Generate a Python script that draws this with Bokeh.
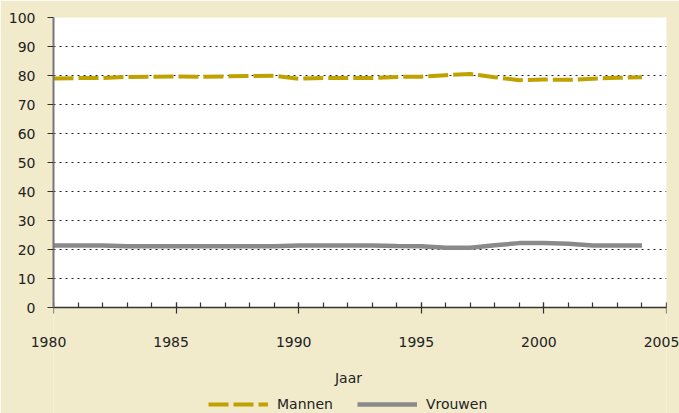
from bokeh.plotting import figure
from bokeh.models import (Range1d, FixedTicker, ColumnDataSource, Label, Legend,
                          LegendItem, BoxAnnotation)
from bokeh.core.properties import value
from bokeh.embed import file_html
from bokeh.resources import INLINE

years = list(range(1980, 2005))
mannen = [79.0, 79.1, 79.1, 79.5, 79.6, 79.7, 79.6, 79.7, 79.8, 79.9,
          78.9, 79.1, 79.1, 79.1, 79.5, 79.6, 80.1, 80.5, 79.4, 78.4,
          78.6, 78.5, 78.9, 79.2, 79.4]
vrouwen = [21.4, 21.4, 21.4, 21.1, 21.1, 21.1, 21.1, 21.1, 21.1, 21.1,
           21.4, 21.4, 21.4, 21.4, 21.2, 21.1, 20.6, 20.6, 21.5, 22.2,
           22.2, 22.0, 21.4, 21.4, 21.4]
x_ticks = [1980, 1985, 1990, 1995, 2000, 2005]
x_tick_labels = ["1980", "1985", "1990", "1995", "2000", "2005"]
y_ticks = [0, 10, 20, 30, 40, 50, 60, 70, 80, 90, 100]
x_title = "Jaar"
series_names = ["Mannen", "Vrouwen"]

FONT = "DejaVu Sans"
BG = "#F1EBCC"
INK = "#222222"

# The frame runs to the bottom of the canvas so the title and legend below the
# plot area are drawn inside it; the white plot area spans 0..100.
H, TOP, AXIS_Y = 413, 17, 307
ppu = (AXIS_Y - TOP) / 100.0
y_start = -(H - AXIS_Y) / ppu

p = figure(width=679, height=H, output_backend="svg", toolbar_location=None,
           x_range=Range1d(1980, 2005), y_range=Range1d(y_start, 100),
           x_axis_location="above",
           min_border_left=53, min_border_right=13, min_border_top=TOP,
           min_border_bottom=0)
p.background_fill_color = BG
p.border_fill_color = BG
p.outline_line_color = None

p.add_layout(BoxAnnotation(left=1980, right=2005, bottom=0, top=100,
                           fill_color="white", fill_alpha=1, line_color=None,
                           level="image"))

# x axis sits at y = 0
xa = p.xaxis[0]
xa.fixed_location = 0
xa.ticker = FixedTicker(ticks=x_ticks, minor_ticks=years + [2005])
xa.major_label_text_font_size = "0px"
xa.major_label_text_color = None
xa.major_label_standoff = 0
xa.axis_line_color = "#333333"
xa.axis_line_width = 1.5
xa.major_tick_line_color = "#333333"
xa.major_tick_line_width = 1.2
xa.major_tick_out = 5
xa.major_tick_in = 6
xa.minor_tick_line_color = "#333333"
xa.minor_tick_line_width = 1.2
xa.minor_tick_out = 5
xa.minor_tick_in = 0

ya = p.yaxis[0]
ya.bounds = (0, 100)
ya.ticker = FixedTicker(ticks=y_ticks)
ya.axis_line_color = "#777777"
ya.axis_line_width = 2
ya.major_tick_line_color = "#333333"
ya.major_tick_line_width = 1.2
ya.major_tick_in = 0
ya.major_tick_out = 6
ya.minor_tick_line_color = None
ya.major_label_standoff = 12
ya.major_label_text_font = FONT
ya.major_label_text_font_size = "14px"
ya.major_label_text_color = INK

p.xgrid.grid_line_color = None
p.ygrid.ticker = FixedTicker(ticks=y_ticks)
p.ygrid.grid_line_color = INK
p.ygrid.grid_line_dash = "2 4"
p.ygrid.grid_line_width = 1

# data lines
src = ColumnDataSource(dict(x=years, m=mannen, v=vrouwen))
r_v = p.line("x", "v", source=src, line_color="#8A8A8A", line_width=4.5)
r_m = p.line("x", "m", source=src, line_color="#BFA100", line_width=4,
             line_dash="20 5")

# x tick labels
lab_src = ColumnDataSource(dict(x=x_ticks, y=[0] * len(x_ticks), t=x_tick_labels))
p.text("x", "y", text="t", source=lab_src, text_font=value(FONT),
       text_font_size="14px", text_color=INK, text_align="center",
       text_baseline="middle", x_offset=-5, y_offset=34, level="overlay")

# axis title
p.add_layout(Label(x=295, y=H - 377.5, x_units="screen", y_units="screen",
                   text=x_title, text_font=FONT, text_font_size="14px",
                   text_color=INK, text_align="center", text_baseline="middle"))

legend = Legend(items=[LegendItem(label=series_names[0], renderers=[r_m]),
                       LegendItem(label=series_names[1], renderers=[r_v])],
                orientation="horizontal", location=(155, 1),
                background_fill_alpha=0, border_line_color=None,
                label_text_font=FONT, label_text_font_size="14px",
                label_text_color=INK, glyph_width=60, glyph_height=16,
                label_height=16, label_standoff=9, spacing=24, padding=0,
                margin=0)
p.add_layout(legend)

open("out.html", "w").write(file_html(p, INLINE))
